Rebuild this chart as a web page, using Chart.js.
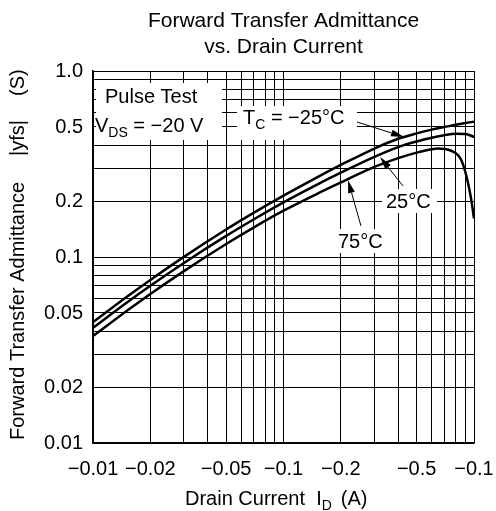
<!DOCTYPE html>
<html>
<head>
<meta charset="utf-8">
<script src="https://cdn.jsdelivr.net/npm/chart.js@4.4.0/dist/chart.umd.min.js"></script>
<style>
  html, body { margin: 0; padding: 0; background: #fff; }
</style>
</head>
<body>
<canvas id="yfsChart" width="496" height="511"></canvas>
<script>
// drain current |I_D| (A), axis is labelled negative
const drainCurrent = [0.01, 0.015, 0.02, 0.03, 0.05, 0.07, 0.1, 0.15, 0.2, 0.3, 0.4, 0.5, 0.6, 0.7, 0.8, 0.9, 1.0];
const yfsMinus25 = [0.0446, 0.0609, 0.0753, 0.1002, 0.1405, 0.1731, 0.2137, 0.2683, 0.3125, 0.383, 0.432, 0.462, 0.484, 0.500, 0.514, 0.525, 0.534];
const yfs25 = [0.0416, 0.0567, 0.0700, 0.0929, 0.1298, 0.1596, 0.1966, 0.245, 0.2838, 0.3455, 0.390, 0.418, 0.438, 0.452, 0.460, 0.459, 0.442];
const drainCurrent75 = [0.01, 0.015, 0.02, 0.03, 0.05, 0.07, 0.1, 0.15, 0.2, 0.3, 0.4, 0.5, 0.6, 0.65, 0.7, 0.8, 0.85, 0.88, 0.91, 0.94, 0.97, 1.0];
const yfs75 = [0.0376, 0.0512, 0.0633, 0.0840, 0.1175, 0.1444, 0.1774, 0.2187, 0.2516, 0.305, 0.340, 0.364, 0.380, 0.383, 0.381, 0.362, 0.338, 0.310, 0.275, 0.238, 0.200, 0.161];

const xGridValues = [0.01, 0.02, 0.03, 0.04, 0.05, 0.06, 0.07, 0.08, 0.09, 0.1, 0.2, 0.3, 0.4, 0.5, 0.6, 0.7, 0.8, 0.9, 1.0];
const xLabelValues = [0.01, 0.02, 0.05, 0.1, 0.2, 0.5, 1.0];
const xLabelText = ['\u22120.01', '\u22120.02', '\u22120.05', '\u22120.1', '\u22120.2', '\u22120.5', '\u22120.1'];
const yGridValues = [0.01, 0.02, 0.03, 0.04, 0.05, 0.06, 0.07, 0.08, 0.09, 0.1, 0.2, 0.3, 0.4, 0.5, 0.6, 0.7, 0.8, 0.9, 1.0];
const yLabelValues = [0.01, 0.02, 0.05, 0.1, 0.2, 0.5, 1.0];
const yLabelText = ['0.01', '0.02', '0.05', '0.1', '0.2', '0.5', '1.0'];

const fontName = '"Liberation Sans", Arial, Helvetica, sans-serif';

function toPoints(xs, ys) {
  return xs.map((x, i) => ({ x: x, y: ys[i] }));
}

function labelFor(value, values, texts) {
  const i = values.findIndex(v => Math.abs(v - value) / v < 1e-6);
  return i >= 0 ? texts[i] : '';
}

// draws text with subscript parts, returns end x
function textRun(ctx, x, y, parts) {
  parts.forEach(p => {
    ctx.font = (p.sub ? '14px ' : '20px ') + fontName;
    ctx.fillText(p.t, x, y + (p.sub ? 5 : 0));
    x += ctx.measureText(p.t).width;
  });
  return x;
}

function arrow(ctx, x1, y1, x2, y2) {
  const ang = Math.atan2(y2 - y1, x2 - x1);
  const len = 13, half = 3.5;
  ctx.beginPath();
  ctx.moveTo(x1, y1);
  ctx.lineTo(x2 - Math.cos(ang) * len, y2 - Math.sin(ang) * len);
  ctx.lineWidth = 1;
  ctx.stroke();
  ctx.beginPath();
  ctx.moveTo(x2, y2);
  ctx.lineTo(x2 - Math.cos(ang) * len - Math.sin(ang) * half, y2 - Math.sin(ang) * len + Math.cos(ang) * half);
  ctx.lineTo(x2 - Math.cos(ang) * len + Math.sin(ang) * half, y2 - Math.sin(ang) * len - Math.cos(ang) * half);
  ctx.closePath();
  ctx.fill();
}

const annotations = {
  id: 'annotations',
  afterDatasetsDraw(chart) {
    const ctx = chart.ctx;
    const xs = chart.scales.x, ys = chart.scales.y;
    const px = v => xs.getPixelForValue(v);
    const py = v => ys.getPixelForValue(v);
    ctx.save();
    ctx.fillStyle = '#000';
    ctx.strokeStyle = '#000';

    // white label boxes
    ctx.fillStyle = '#fff';
    ctx.fillRect(96, 83, 126, 57);
    ctx.fillRect(237, 106, 120, 34);
    ctx.fillRect(382, 189, 55, 24);
    ctx.fillRect(335, 229, 52, 24);

    ctx.fillStyle = '#000';
    ctx.textAlign = 'left';
    ctx.textBaseline = 'alphabetic';
    textRun(ctx, 105, 103, [{ t: 'Pulse Test' }]);
    textRun(ctx, 95, 132, [{ t: 'V' }, { t: 'DS', sub: true }, { t: ' = \u221220 V' }]);
    textRun(ctx, 243, 124, [{ t: 'T' }, { t: 'C', sub: true }, { t: ' = \u221225\u00b0C' }]);
    textRun(ctx, 386, 208, [{ t: '25\u00b0C' }]);
    textRun(ctx, 338, 248, [{ t: '75\u00b0C' }]);

    // arrows, in data coordinates
    arrow(ctx, px(0.243), py(0.532), px(0.429), py(0.442));
    arrow(ctx, px(0.424), py(0.241), px(0.321), py(0.345));
    arrow(ctx, px(0.255), py(0.147), px(0.218), py(0.259));

    // chart title centred on the plot
    const cx = (chart.chartArea.left + chart.chartArea.right) / 2;
    ctx.textAlign = 'center';
    ctx.font = '21px ' + fontName;
    ctx.fillText('Forward Transfer Admittance', cx, 27);
    ctx.fillText('vs. Drain Current', cx, 53);

    // x axis title
    ctx.textAlign = 'left';
    let x = textRun(ctx, 185, 505, [{ t: 'Drain Current  I' }, { t: 'D', sub: true }]);
    textRun(ctx, x + 9, 505, [{ t: '(A)' }]);

    // y axis title
    ctx.translate(18, 0);
    ctx.rotate(-Math.PI / 2);
    ctx.textBaseline = 'middle';
    ctx.font = '20px ' + fontName;
    ctx.fillText('Forward Transfer Admittance', -440, 0);
    ctx.fillText('|yfs|', -156, 0);
    ctx.fillText('(S)', -96, 0);
    ctx.restore();
  }
};

const lineStyle = {
  borderColor: '#000',
  borderWidth: 2.5,
  pointRadius: 0,
  fill: false,
  cubicInterpolationMode: 'monotone'
};

new Chart(document.getElementById('yfsChart').getContext('2d'), {
  type: 'line',
  data: {
    datasets: [
      Object.assign({ label: 'Tc = -25°C', data: toPoints(drainCurrent, yfsMinus25) }, lineStyle),
      Object.assign({ label: 'Tc = 25°C', data: toPoints(drainCurrent, yfs25) }, lineStyle),
      Object.assign({ label: 'Tc = 75°C', data: toPoints(drainCurrent75, yfs75) }, lineStyle)
    ]
  },
  options: {
    responsive: false,
    animation: false,
    layout: { padding: { top: 71, right: 22, left: 0, bottom: 0 } },
    plugins: {
      legend: { display: false },
      title: { display: false },
      tooltip: { enabled: false }
    },
    scales: {
      x: {
        type: 'logarithmic',
        min: 0.01,
        max: 1,
        afterBuildTicks: scale => { scale.ticks = xGridValues.map(v => ({ value: v })); },
        afterFit: scale => { scale.height = 68; scale.paddingLeft = 0; scale.paddingRight = 0; },
        grid: { color: '#000', lineWidth: 1, drawTicks: false },
        border: { color: '#000', width: 1.5 },
        ticks: {
          autoSkip: false,
          maxRotation: 0,
          minRotation: 0,
          padding: 14,
          color: '#000',
          font: { family: fontName, size: 20 },
          callback: v => labelFor(v, xLabelValues, xLabelText)
        }
      },
      y: {
        type: 'logarithmic',
        min: 0.01,
        max: 1,
        afterBuildTicks: scale => { scale.ticks = yGridValues.map(v => ({ value: v })); },
        afterFit: scale => { scale.width = 93; scale.paddingTop = 0; scale.paddingBottom = 0; },
        grid: { color: '#000', lineWidth: 1, drawTicks: false },
        border: { color: '#000', width: 1.5 },
        ticks: {
          autoSkip: false,
          padding: 10,
          color: '#000',
          font: { family: fontName, size: 20 },
          callback: v => labelFor(v, yLabelValues, yLabelText)
        }
      }
    }
  },
  plugins: [annotations]
});
</script>
</body>
</html>
